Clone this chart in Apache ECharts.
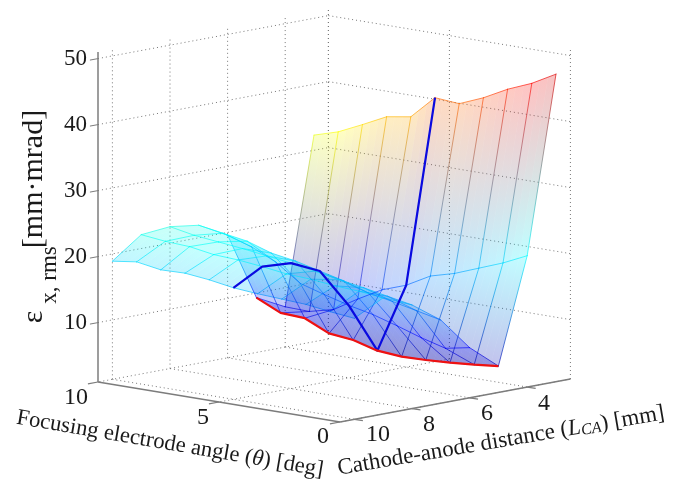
<!DOCTYPE html>
<html><head><meta charset="utf-8">
<style>html,body{margin:0;padding:0;background:#fff}#c{width:683px;height:483px}</style>
<script src="https://cdn.jsdelivr.net/npm/echarts@6/dist/echarts.min.js"></script>
</head><body><div id="c"></div>
<script>
// data
var thetaValues=[10,9,8,7,6,5,4,3,2,1,0];
var lcaValues=[3,4,5,6,7,8,9,10];
var emitL3=[32.3,33.4,35.1,36.9,37.5,41.0,40.7,42.2,44.1,45.6,47.6];
var emitL4=[7.1,7.0,7.9,10.1,12.1,13.4,15.4,16.4,17.8,19.2,20.9];
var emitL5=[9.3,7.6,7.4,5.7,5.3,4.3,4.0,4.1,4.3,4.6,5.0];
var emitL6=[19.6,18.4,16.7,14.1,13.0,12.0,11.2,10.1,8.9,7.9,8.6];
var emitL7=[21.9,21.3,20.7,19.5,18.9,18.0,17.1,15.9,15.2,14.4,13.6];
var emitL8=[22.5,21.8,21.4,21.0,20.5,20.0,19.4,18.7,18.1,17.4,16.7];
var emitL9=[22.1,21.7,21.5,20.9,20.7,20.3,19.8,19.6,19.2,19.0,18.6];
var emitL10=[18.9,19.4,18.8,18.9,18.5,17.9,17.6,17.4,17.2,16.7,16.3];
var zTicks=[10,20,30,40,50];
var thetaTicks=[10,5,0];
var lcaTicks=[10,8,6,4];
var rows=[emitL3,emitL4,emitL5,emitL6,emitL7,emitL8,emitL9,emitL10];

// box limits and camera
var thetaLim=[0,10],lcaLim=[2.5,10.5],zLim=[1,51];
var origin=[98,382];
var perTheta=[24.2,4.0],perLca=[28.8,-5.375],perZ=6.6;
function project(theta,lca,z){
  var t=thetaLim[1]-theta,s=lcaLim[1]-lca;
  return [origin[0]+perTheta[0]*t+perLca[0]*s,origin[1]+perTheta[1]*t+perLca[1]*s-perZ*(z-zLim[0])];
}
// colours
var cLim=[2.5,52];
function jet(z){
  var v=Math.max(0,Math.min(1,(z-cLim[0])/(cLim[1]-cLim[0])));
  function f(x){return Math.round(255*Math.max(0,Math.min(1,1.5-Math.abs(4*v-x))));}
  return [f(3),f(2),f(1)];
}
function mix(p,q,u){return [p[0]+(q[0]-p[0])*u,p[1]+(q[1]-p[1])*u,p[2]+(q[2]-p[2])*u];}
function rgba(c,al){return 'rgba('+Math.round(c[0])+','+Math.round(c[1])+','+Math.round(c[2])+','+al+')';}
function grad(p,q,c0,c1,al){
  return new echarts.graphic.LinearGradient(p[0],p[1],q[0],q[1],[{offset:0,color:rgba(c0,al)},{offset:1,color:rgba(c1,al)}],true);
}
var faceAlpha=0.24,edgeAlpha=0.65,strips=3;
var GREY='#7c7c7c',DOT='#777';

var cells=[];
for(var i=0;i<lcaValues.length-1;i++)for(var j=0;j<thetaValues.length-1;j++)cells.push([i,j]);
// back to front
cells.sort(function(p,q){return (p[0]-p[1])-(q[0]-q[1]);});

function V(api,i,j){return api.coord(project(thetaValues[j],lcaValues[i],rows[i][j]));}
function edge(p,q,c0,c1,al,w){
  return {type:'line',shape:{x1:p[0],y1:p[1],x2:q[0],y2:q[1]},style:{stroke:grad(p,q,c0,c1,al),lineWidth:w,lineCap:'round'}};
}
function renderCell(params,api){
  var i=api.value(0),j=api.value(1),ch=[];
  var p00=V(api,i,j),p01=V(api,i,j+1),p10=V(api,i+1,j),p11=V(api,i+1,j+1);
  var c00=jet(rows[i][j]),c01=jet(rows[i][j+1]),c10=jet(rows[i+1][j]),c11=jet(rows[i+1][j+1]);
  for(var k=0;k<strips;k++){
    var u0=k/strips,u1=(k+1)/strips,um=(u0+u1)/2;
    var a0=mix(p00,p01,u0),a1=mix(p00,p01,u1),b0=mix(p10,p11,u0),b1=mix(p10,p11,u1);
    var am=mix(p00,p01,um),bm=mix(p10,p11,um);
    ch.push({type:'polygon',shape:{points:[a0,a1,b1,b0]},style:{fill:grad(am,bm,mix(c00,c01,um),mix(c10,c11,um),faceAlpha)}});
  }
  ch.push(edge(p00,p01,c00,c01,edgeAlpha,1));
  ch.push(edge(p00,p10,c00,c10,edgeAlpha,1));
  if(i===lcaValues.length-2)ch.push(edge(p10,p11,c10,c11,edgeAlpha,1));
  if(j===thetaValues.length-2)ch.push(edge(p01,p11,c01,c11,edgeAlpha,1));
  return {type:'group',children:ch};
}
function wallLines(api){
  var out=[];
  function L(p,q,st){var A=api.coord(p),B=api.coord(q);out.push({type:'line',shape:{x1:A[0],y1:A[1],x2:B[0],y2:B[1]},style:st});}
  var dot={stroke:DOT,lineWidth:1,lineDash:[1,3]};
  zTicks.forEach(function(z){
    L(project(10,lcaLim[1],z),project(10,lcaLim[0],z),dot);
    L(project(10,lcaLim[0],z),project(0,lcaLim[0],z),dot);
  });
  lcaTicks.forEach(function(l){
    L(project(10,l,zLim[0]),project(10,l,zLim[1]),dot);
    L(project(10,l,zLim[0]),project(0,l,zLim[0]),dot);
  });
  thetaTicks.forEach(function(t){
    L(project(t,lcaLim[0],zLim[0]),project(t,lcaLim[0],zLim[1]),dot);
    L(project(t,lcaLim[0],zLim[0]),project(t,lcaLim[1],zLim[0]),dot);
  });
  L(project(10,lcaLim[0],zLim[0]),project(10,lcaLim[0],zLim[1]),dot);
  return out;
}
function axisLines(api){
  var out=[];
  function L(p,q,w){var A=api.coord(p),B=api.coord(q);out.push({type:'line',shape:{x1:A[0],y1:A[1],x2:B[0],y2:B[1]},style:{stroke:GREY,lineWidth:w}});}
  L(project(10,lcaLim[1],zLim[0]),project(10,lcaLim[1],zLim[1]),1.5);
  L(project(10,lcaLim[1],zLim[0]),project(0,lcaLim[1],zLim[0]),1.5);
  L(project(0,lcaLim[1],zLim[0]),project(0,lcaLim[0],zLim[0]),1.5);
  zTicks.forEach(function(z){L(project(10,lcaLim[1],z),project(10,lcaLim[1]+0.28,z),1);});
  thetaTicks.forEach(function(t){L(project(t,lcaLim[1],zLim[0]),project(t,lcaLim[1]+0.35,zLim[0]),1.2);});
  lcaTicks.forEach(function(l){L(project(0,l,zLim[0]),project(-0.35,l,zLim[0]),1.2);});
  return out;
}
var thetaLabelPos={10:[76,398],5:[203,418],0:[323,437]};
var lcaLabelPos={10:[378,435],8:[429,425],6:[487,414],4:[544,404]};
function labelEls(api){
  var out=[],F='"Liberation Serif",serif';
  function T(txt,x,y,size,al,rot,extra){
    var st={text:txt,fill:'#1a1a1a',font:size+'px '+F,align:al||'center',verticalAlign:'middle'};
    if(extra)st.rich=extra;
    out.push({type:'text',x:x,y:y,rotation:rot||0,style:st});
  }
  zTicks.forEach(function(z){var q=api.coord(project(10,lcaLim[1],z));T(String(z),q[0]-11,q[1],23,'right');});
  thetaTicks.forEach(function(t){var q=thetaLabelPos[t];T(String(t),q[0],q[1],24);});
  lcaTicks.forEach(function(l){var q=lcaLabelPos[l];T(String(l),q[0],q[1],24);});
  T('ε',34,317,30,'center',Math.PI/2);
  T('x, rms',50,275,23,'center',Math.PI/2);
  T('[mm·mrad]',34,179,30,'center',Math.PI/2);
  var it={i:{font:'italic 22.6px '+F},s:{font:'italic 16px '+F,padding:[7,0,0,0]}};
  var it2={i:{font:'italic 23px '+F},s:{font:'italic 16px '+F,padding:[7,0,0,0]}};
  T('Focusing electrode angle ({i|θ}) [deg]',170,444,22.6,'center',-0.17,it);
  T('Cathode-anode distance ({i|L}{s|CA}) [mm]',501,441,23,'center',0.169,it2);
  return out;
}
function custom(data,fn){return {type:'custom',coordinateSystem:'cartesian2d',silent:true,clip:false,animation:false,data:data,renderItem:fn};}
function single(fn){return custom([[0,0]],function(params,api){return {type:'group',children:fn(api)};});}
function thick(api,pts,color){
  return [{type:'polyline',shape:{points:pts.map(function(p){return api.coord(p);})},style:{stroke:color,lineWidth:2.2,fill:null,lineJoin:'round'}}];
}
var option={
  animation:false,backgroundColor:'#fff',
  grid:{left:0,top:0,width:683,height:483},
  xAxis:{type:'value',min:0,max:683,show:false},
  yAxis:{type:'value',min:0,max:483,inverse:true,show:false},
  series:[
    single(wallLines),
    single(axisLines),
    custom(cells,renderCell),
    single(function(api){return thick(api,lcaValues.map(function(l,i){return project(5,l,rows[i][thetaValues.indexOf(5)]);}),'#0a0ae0');}),
    single(function(api){return thick(api,thetaValues.map(function(t,j){return project(t,5,emitL5[j]);}),'#ee1111');}),
    single(labelEls)
  ]
};
echarts.init(document.getElementById('c'),null,{renderer:'canvas'}).setOption(option);
</script></body></html>
